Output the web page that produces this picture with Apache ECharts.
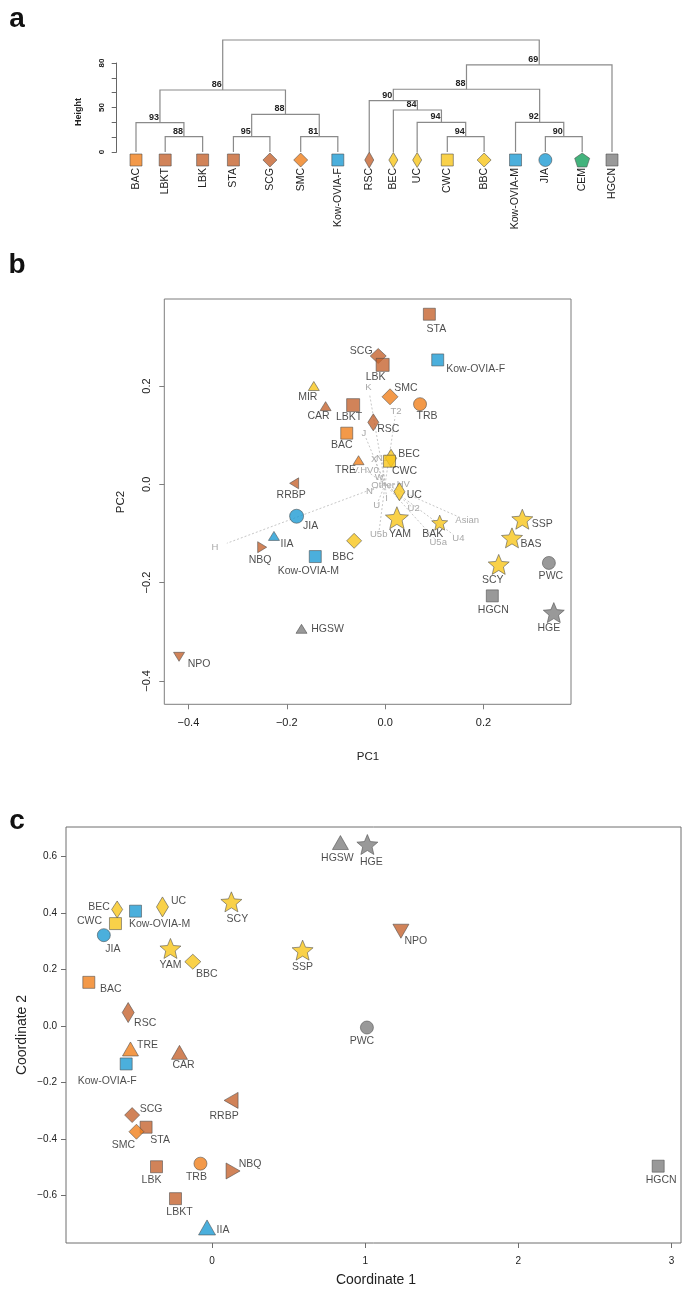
<!DOCTYPE html>
<html>
<head>
<meta charset="utf-8">
<script src="https://cdn.jsdelivr.net/npm/echarts@6.0.0/dist/echarts.min.js"></script>
<style>
html,body{margin:0;padding:0;background:#ffffff;}
#chart{width:685px;height:1289px;}
</style>
</head>
<body>
<div id="chart"></div>
<script>
// ================= DATA =================
// Panel a – hierarchical clustering, leaves in plotted order
const leafNames = ['BAC','LBKT','LBK','STA','SCG','SMC','Kow-OVIA-F','RSC','BEC','UC','CWC','BBC','Kow-OVIA-M','JIA','CEM','HGCN'];
// merges (hclust convention: negative = leaf number, positive = earlier merge number)
const mergeLeft   = [-2,-1,-4,-6, 3, 2,-11,-10,-9,-8,-14,-13,10, 13, 6];
const mergeRight  = [-3, 1,-5,-7, 4, 5,-12,  7, 8, 9,-15, 11,12,-16,14];
const mergeHeight = [1.03,1.98,1.03,1.03,2.54,4.18,1.03,2.00,2.83,3.46,1.03,2.00,4.23,5.87,7.55];
const mergeSupport= [88,93,95,81,88,86,94,94,84,90,90,92,88,69,null];
const heightTickValues = [0,1,2,3,4,5,6];
const heightLabelValues = [0,3,6];
const heightLabelText = {0:'0',3:'50',6:'80'};

// Panel b – PCA
const pcaNames = ['STA','SCG','LBK','Kow-OVIA-F','MIR','CAR','LBKT','SMC','TRB','RSC','BAC','BEC','CWC','TRE','RRBP','UC','JIA','YAM','BAK','IIA','NBQ','BBC','Kow-OVIA-M','HGSW','SCY','HGCN','SSP','BAS','PWC','HGE','NPO'];
const pcaPC1 = [0.090,-0.014,-0.005,0.107,-0.145,-0.121,-0.065,0.010,0.071,-0.024,-0.078,0.012,0.009,-0.054,-0.185,0.029,-0.180,0.024,0.111,-0.226,-0.250,-0.063,-0.142,-0.170,0.231,0.218,0.279,0.258,0.333,0.343,-0.419];
const pcaPC2 = [0.346,0.261,0.243,0.253,0.200,0.159,0.161,0.178,0.163,0.126,0.104,0.053,0.047,0.049,0.002,-0.015,-0.065,-0.068,-0.078,-0.105,-0.128,-0.115,-0.147,-0.294,-0.163,-0.227,-0.071,-0.109,-0.160,-0.261,-0.351];
const loadNames = ['K','T2','J','X','N1','V.HV0','W','Other','HV','N','U','I','U2','Asian','U5b','U5a','U4','H'];
const loadPC1 = [-0.034,0.022,-0.043,-0.022,-0.006,-0.040,-0.012,-0.004,0.037,-0.032,-0.017,0.003,0.058,0.167,-0.013,0.108,0.149,-0.346];
const loadPC2 = [0.197,0.149,0.104,0.051,0.053,0.029,0.015,-0.003,-0.001,-0.014,-0.042,-0.028,-0.049,-0.074,-0.101,-0.119,-0.110,-0.129];
const pcaTicks = [-0.4,-0.2,0,0.2];

// Panel c – MDS
const mdsNames = ['BEC','Kow-OVIA-M','UC','CWC','JIA','SCY','YAM','BBC','SSP','BAC','RSC','TRE','CAR','Kow-OVIA-F','RRBP','SCG','STA','SMC','LBK','TRB','NBQ','LBKT','IIA','HGSW','HGE','NPO','PWC','HGCN'];
const mdsC1 = [-0.620,-0.500,-0.324,-0.631,-0.707,0.126,-0.272,-0.126,0.591,-0.805,-0.548,-0.533,-0.213,-0.561,0.124,-0.522,-0.431,-0.494,-0.363,-0.076,0.137,-0.239,-0.033,0.838,1.014,1.233,1.011,2.913];
const mdsC2 = [0.412,0.406,0.421,0.362,0.321,0.439,0.274,0.227,0.268,0.154,0.047,-0.082,-0.094,-0.135,-0.264,-0.316,-0.359,-0.375,-0.499,-0.488,-0.514,-0.612,-0.714,0.649,0.642,0.335,-0.006,-0.497];
const mdsXTicks = [0,1,2,3];
const mdsYTicks = [-0.6,-0.4,-0.2,0,0.2,0.4,0.6];

// ================= STYLE / LAYOUT =================
const FONT = '"Liberation Sans", Arial, Helvetica, sans-serif';
const COL = {orange:'#F0801C', brown:'#C6642F', blue:'#1E9BD3', yellow:'#F7C51C', gray:'#808080', green:'#14A05B'};
const popStyle = {
  'BAC':['square','orange'],'LBKT':['square','brown'],'LBK':['square','brown'],'STA':['square','brown'],
  'SCG':['diamond','brown'],'SMC':['diamond','orange'],'Kow-OVIA-F':['square','blue'],'Kow-OVIA-M':['square','blue'],
  'RSC':['diamond','brown'],'BEC':['diamond','yellow'],'UC':['diamond','yellow'],'CWC':['square','yellow'],
  'BBC':['diamond','yellow'],'JIA':['circle','blue'],'CEM':['pentagon','green'],'HGCN':['square','gray'],
  'MIR':['triUp','yellow'],'CAR':['triUp','brown'],'TRB':['circle','orange'],'TRE':['triUp','orange'],
  'RRBP':['triLeft','brown'],'YAM':['star','yellow'],'BAK':['star','yellow'],'IIA':['triUp','blue'],
  'NBQ':['triRight','brown'],'HGSW':['triUp','gray'],'SCY':['star','yellow'],'SSP':['star','yellow'],
  'BAS':['star','yellow'],'PWC':['circle','gray'],'HGE':['star','gray'],'NPO':['triDown','brown']
};
function polyPath(n, inner){
  let d=''; const k = inner ? 2*n : n;
  for(let i=0;i<k;i++){
    const r = (inner && i%2) ? inner : 1;
    const a = -Math.PI/2 + i*2*Math.PI/k;
    d += (i?'L':'M') + (r*Math.cos(a)).toFixed(4) + ' ' + (r*Math.sin(a)).toFixed(4) + ' ';
  }
  return 'path://' + d + 'Z';
}
const STAR = polyPath(5, 0.45), PENT = polyPath(5, 0);
const shapeSym = {square:['rect',0],diamond:['diamond',0],circle:['circle',0],pentagon:[PENT,0],star:[STAR,0],
  triUp:['triangle',0],triDown:['triangle',180],triLeft:['triangle',90],triRight:['triangle',-90]};

// symbol sizes per panel
const dendroSize = {square:[12,12],diamond:[14,14],circle:13,pentagon:[15,14]};
const dendroSizeOverride = {'RSC':[9,16],'BEC':[9,15],'UC':[9,15]};
const pcaSize = {square:[12,12],diamond:[15,15],circle:13,star:[21,20],triUp:[11,9],triDown:[11,9],triLeft:[11,9],triRight:[11,9]};
const pcaSizeOverride = {'RSC':[11,17],'BEC':[11,18],'UC':[11,18],'SCG':[16,15],'SMC':[16,16],'YAM':[23,22],'BAK':[16,15],'LBK':[13,13],'LBKT':[13,13],'JIA':14};
const mdsSize = {square:[12,12],diamond:[15,15],circle:13,star:[21,20],triUp:[16,14],triDown:[16,14],triLeft:[16,14],triRight:[16,14]};
const mdsSizeOverride = {'RSC':[12,20],'BEC':[11,17],'UC':[12,20],'BBC':[16,15],'IIA':[17,15]};

// label offsets (label centre relative to marker centre, px)
const pcaLabelOffset = {'STA':[7,15],'SCG':[-17,-5],'LBK':[-7,12],'Kow-OVIA-F':[38,9],'MIR':[-6,11],'CAR':[-7,10],
  'LBKT':[-4,12],'SMC':[16,-9],'TRB':[7,12],'RSC':[15,7],'BAC':[-5,12],'BEC':[18,-4],'CWC':[15,10],'TRE':[-13,10],
  'RRBP':[-3,12],'UC':[15,3],'JIA':[14,10],'YAM':[3,16],'BAK':[-7,11],'IIA':[13,8],'NBQ':[-2,13],'BBC':[-11,16],
  'Kow-OVIA-M':[-7,15],'HGSW':[26,0],'SCY':[-6,16],'HGCN':[1,14],'SSP':[20,5],'BAS':[19,6],'PWC':[2,13],'HGE':[-5,16],'NPO':[20,7]};
const mdsLabelOffset = {'BEC':[-18,-2],'Kow-OVIA-M':[24,13],'UC':[16,-6],'CWC':[-26,-2],'JIA':[9,14],'SCY':[6,17],
  'YAM':[0,17],'BBC':[14,12],'SSP':[0,17],'BAC':[22,7],'RSC':[17,11],'TRE':[17,-4],'CAR':[4,13],'Kow-OVIA-F':[-19,17],
  'RRBP':[-7,16],'SCG':[19,-6],'STA':[14,13],'SMC':[-13,13],'LBK':[-5,13],'TRB':[-4,13],'NBQ':[17,-7],'LBKT':[4,13],
  'IIA':[16,3],'HGSW':[-3,16],'HGE':[4,18],'NPO':[15,10],'PWC':[-5,14],'HGCN':[3,14]};

// dendrogram leaf slots along the x axis (plotted spacing)
const leafSlot = [0,0.92,2.10,3.07,4.22,5.19,6.36,7.35,8.11,8.86,9.81,10.97,11.96,12.90,14.06,15];

function fmtNum(v, d){ const s = Math.abs(v).toFixed(d); return (v < -1e-9 ? '\u2212' : '') + s; }

function makePoint(name, x, y, sizeMap, override, offsets){
  const st = popStyle[name];
  const sym = shapeSym[st[0]];
  const size = override[name] !== undefined ? override[name] : sizeMap[st[0]];
  const off = offsets ? (offsets[name] || [0,14]) : [0,0];
  return {
    name: name, value: [x, y], symbol: sym[0], symbolRotate: sym[1], symbolSize: size,
    itemStyle: {color: COL[st[1]], borderColor: '#4a4a4a', borderWidth: 0.7},
    label: {offset: off}
  };
}

// ---------- dendrogram geometry from merge table ----------
const nodeX = [], nodeH = [];
function childX(c){ return c < 0 ? leafSlot[-c-1] : nodeX[c-1]; }
function childH(c){ return c < 0 ? 0 : nodeH[c-1]; }
const dendroData = [];
for (let k = 0; k < mergeLeft.length; k++){
  const a = mergeLeft[k], b = mergeRight[k];
  const xa = childX(a), xb = childX(b);
  nodeX.push((xa + xb) / 2); nodeH.push(mergeHeight[k]);
  dendroData.push([xa, childH(a), xb, childH(b), mergeHeight[k], mergeSupport[k] || 0, (xa + xb) / 2]);
}

const chart = echarts.init(document.getElementById('chart'), null, {renderer: 'canvas'});
const noLine = {show: false, onZero: false};
const center = {align: 'center', verticalAlign: 'middle', textAlign: 'center', textVerticalAlign: 'middle'};

const option = {
  animation: false,
  backgroundColor: '#ffffff',
  textStyle: {fontFamily: FONT},
  grid: [
    {left: 136, top: 63, width: 476, height: 89, show: false},
    {left: 164.3, top: 299, width: 406.7, height: 405.3, show: true, borderColor: '#7d7d7d', borderWidth: 1, backgroundColor: 'transparent'},
    {left: 66, top: 827, width: 615, height: 416, show: true, borderColor: '#6e6e6e', borderWidth: 1, backgroundColor: 'transparent'}
  ],
  xAxis: [
    {gridIndex: 0, type: 'value', min: 0, max: 15, show: false},
    {gridIndex: 1, type: 'value', min: -0.449, max: 0.378, position: 'bottom',
      axisLine: noLine, splitLine: {show: false},
      axisTick: {show: true, customValues: pcaTicks, length: 5, lineStyle: {color: '#7d7d7d'}},
      axisLabel: {customValues: pcaTicks, formatter: v => fmtNum(v, 1), margin: 13, fontSize: 11, color: '#222', fontFamily: FONT}},
    {gridIndex: 2, type: 'value', min: -0.954, max: 3.062, position: 'bottom',
      axisLine: noLine, splitLine: {show: false},
      axisTick: {show: true, customValues: mdsXTicks, length: 5, lineStyle: {color: '#6e6e6e'}},
      axisLabel: {customValues: mdsXTicks, formatter: v => String(Math.round(v)), margin: 13, fontSize: 10, color: '#222', fontFamily: FONT}}
  ],
  yAxis: [
    {gridIndex: 0, type: 'value', min: 0, max: 6, offset: 19.3, position: 'left',
      axisLine: {show: true, onZero: false, lineStyle: {color: '#666', width: 1}}, splitLine: {show: false},
      axisTick: {show: true, customValues: heightTickValues, length: 5, lineStyle: {color: '#666'}},
      axisLabel: {customValues: heightLabelValues, formatter: v => heightLabelText[Math.round(v)], rotate: 90,
        margin: 11, fontSize: 8, fontWeight: 'bold', color: '#222', fontFamily: FONT}},
    {gridIndex: 1, type: 'value', min: -0.4476, max: 0.377, position: 'left',
      axisLine: noLine, splitLine: {show: false},
      axisTick: {show: true, customValues: pcaTicks, length: 5, lineStyle: {color: '#7d7d7d'}},
      axisLabel: {customValues: pcaTicks, formatter: v => fmtNum(v, 1), rotate: 90, margin: 12, fontSize: 11, color: '#222', fontFamily: FONT}},
    {gridIndex: 2, type: 'value', min: -0.769, max: 0.704, position: 'left',
      axisLine: noLine, splitLine: {show: false},
      axisTick: {show: true, customValues: mdsYTicks, length: 5, lineStyle: {color: '#6e6e6e'}},
      axisLabel: {customValues: mdsYTicks, formatter: v => fmtNum(v, 1), margin: 9, fontSize: 10, color: '#222', fontFamily: FONT}}
  ],
  series: [
    // ---- panel a: dendrogram branches + bootstrap values
    {type: 'custom', xAxisIndex: 0, yAxisIndex: 0, clip: false, silent: true, data: dendroData,
      renderItem: function(params, api){
        const xl = api.value(0), hl = api.value(1), xr = api.value(2), hr = api.value(3), h = api.value(4), sup = api.value(5), xn = api.value(6);
        const p1 = api.coord([xl, hl]), p2 = api.coord([xl, h]), p3 = api.coord([xr, h]), p4 = api.coord([xr, hr]), pn = api.coord([xn, h]);
        const ch = [{type: 'polyline', shape: {points: [p1, p2, p3, p4]}, style: {stroke: '#8a8a8a', lineWidth: 1.2, fill: null}}];
        if (sup > 0) ch.push({type: 'text', x: pn[0] - 1, y: pn[1] - 1,
          style: {text: String(sup), align: 'right', verticalAlign: 'bottom', textAlign: 'right', textVerticalAlign: 'bottom',
            font: 'bold 9px ' + FONT, fill: '#222'}});
        return {type: 'group', children: ch};
      }},
    // ---- panel a: leaf markers
    {type: 'scatter', xAxisIndex: 0, yAxisIndex: 0, clip: false, silent: true,
      symbolOffset: [0, 8],
      data: leafNames.map((n, i) => makePoint(n, leafSlot[i], 0, dendroSize, dendroSizeOverride, null)),
      label: {show: false}},
    // ---- panel a: leaf labels (vertical)
    {type: 'custom', xAxisIndex: 0, yAxisIndex: 0, clip: false, silent: true,
      data: leafNames.map((n, i) => [leafSlot[i], 0, i]),
      renderItem: function(params, api){
        const p = api.coord([api.value(0), api.value(1)]);
        return {type: 'text', x: p[0], y: p[1] + 16, rotation: Math.PI / 2,
          style: {text: leafNames[api.value(2)], align: 'right', verticalAlign: 'middle', textAlign: 'right', textVerticalAlign: 'middle',
            font: '10.5px ' + FONT, fill: '#222'}};
      }},
    // ---- panel b: loading vectors
    {type: 'custom', xAxisIndex: 1, yAxisIndex: 1, clip: false, silent: true,
      data: loadNames.map((n, i) => [loadPC1[i], loadPC2[i], i]),
      renderItem: function(params, api){
        const o = api.coord([0, 0]);
        const e = api.coord([api.value(0), api.value(1)]);
        const f = 0.93;
        return {type: 'group', children: [
          {type: 'line', shape: {x1: o[0], y1: o[1], x2: o[0] + (e[0] - o[0]) * f, y2: o[1] + (e[1] - o[1]) * f},
            style: {stroke: '#b9b9b9', lineWidth: 0.8, lineDash: [2, 2]}},
          {type: 'text', x: e[0], y: e[1],
            style: Object.assign({text: loadNames[api.value(2)], font: '9.5px ' + FONT, fill: '#a8a8a8'}, center)}
        ]};
      }},
    // ---- panel b: populations
    {type: 'scatter', xAxisIndex: 1, yAxisIndex: 1, silent: true, clip: false,
      data: pcaNames.map((n, i) => makePoint(n, pcaPC1[i], pcaPC2[i], pcaSize, pcaSizeOverride, pcaLabelOffset)),
      label: {show: true, position: 'inside', formatter: '{b}', fontSize: 10.5, color: '#1e1e1e', fontFamily: FONT}},
    // ---- panel c: populations
    {type: 'scatter', xAxisIndex: 2, yAxisIndex: 2, silent: true, clip: false,
      data: mdsNames.map((n, i) => makePoint(n, mdsC1[i], mdsC2[i], mdsSize, mdsSizeOverride, mdsLabelOffset)),
      label: {show: true, position: 'inside', formatter: '{b}', fontSize: 10.5, color: '#1e1e1e', fontFamily: FONT}}
  ],
  graphic: [
    {type: 'text', x: 17, y: 19, style: Object.assign({text: 'a', font: 'bold 28px ' + FONT, fill: '#111'}, center)},
    {type: 'text', x: 17, y: 265, style: Object.assign({text: 'b', font: 'bold 28px ' + FONT, fill: '#111'}, center)},
    {type: 'text', x: 17, y: 821, style: Object.assign({text: 'c', font: 'bold 28px ' + FONT, fill: '#111'}, center)},
    {type: 'text', x: 79, y: 112, rotation: Math.PI / 2, style: Object.assign({text: 'Height', font: 'bold 9px ' + FONT, fill: '#222'}, center)},
    {type: 'text', x: 121, y: 502, rotation: Math.PI / 2, style: Object.assign({text: 'PC2', font: '11.5px ' + FONT, fill: '#222'}, center)},
    {type: 'text', x: 368, y: 757, style: Object.assign({text: 'PC1', font: '11.5px ' + FONT, fill: '#222'}, center)},
    {type: 'text', x: 22, y: 1035, rotation: Math.PI / 2, style: Object.assign({text: 'Coordinate 2', font: '14px ' + FONT, fill: '#222'}, center)},
    {type: 'text', x: 376, y: 1280, style: Object.assign({text: 'Coordinate 1', font: '14px ' + FONT, fill: '#222'}, center)}
  ]
};
chart.setOption(option);
</script>
</body>
</html>
